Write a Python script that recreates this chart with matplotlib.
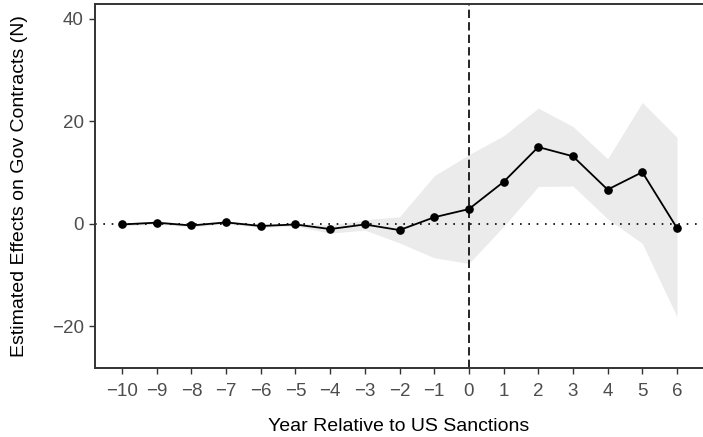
import numpy as np
import matplotlib
matplotlib.use('Agg')
import matplotlib.pyplot as plt

plt.rcParams['font.family'] = ['Liberation Sans', 'DejaVu Sans']

# event-study estimates
years = [-10, -9, -8, -7, -6, -5, -4, -3, -2, -1, 0, 1, 2, 3, 4, 5, 6]
estimate = [-0.1, 0.25, -0.3, 0.3, -0.4, -0.1, -1.0, -0.1, -1.2, 1.3, 2.9,
            8.2, 15.0, 13.2, 6.7, 10.1, -0.8]
ci_upper = [0.2, 0.55, 0.0, 0.6, -0.1, 0.2, -0.2, 0.8, 1.4, 9.4, 13.5,
            17.2, 22.6, 19.0, 12.7, 23.7, 16.9]
ci_lower = [-0.4, -0.05, -0.6, 0.0, -0.7, -0.4, -1.8, -1.2, -3.7, -6.6, -7.7,
            -0.5, 7.3, 7.4, 1.0, -3.8, -18.1]
y_ticks = [-20, 0, 20, 40]

fig = plt.figure(figsize=(7.03, 4.37), dpi=100)
ax = fig.add_axes([0.1351, 0.1579, 0.8649, 0.8329])

ax.fill_between(years, ci_lower, ci_upper, color='#ebebeb', linewidth=0, zorder=1)
ax.axhline(0, color='black', linestyle=(0, (1, 4)), linewidth=1.2, zorder=2)
ax.axvline(0, color='black', linestyle=(0, (5, 2.5)), linewidth=1.2, zorder=2)
ax.plot(years, estimate, color='black', linewidth=1.3, marker='o',
        markersize=5.2, zorder=3)

ax.set_xlim(-10.78, 6.75)
ax.set_ylim(-28.1, 42.9)
ax.set_xticks(years)
ax.set_xticklabels([str(y).replace('-', '\u2212') for y in years])
ax.set_yticks(y_ticks)
ax.set_yticklabels([str(y).replace('-', '\u2212') for y in y_ticks])

for side in ['left', 'bottom', 'top']:
    ax.spines[side].set_color('#333333')
    ax.spines[side].set_linewidth(1.4)
ax.spines['right'].set_visible(False)

ax.tick_params(axis='both', direction='out', length=4, width=1.0,
               color='#333333', labelcolor='#4d4d4d', labelsize=13.5, pad=4)
ax.tick_params(axis='x', pad=7)

ax.set_xlabel('Year Relative to US Sanctions', fontsize=14, labelpad=13)
ax.set_ylabel('Estimated Effects on Gov Contracts (N)', fontsize=14, labelpad=17)

fig.savefig('out.png', dpi=100)
